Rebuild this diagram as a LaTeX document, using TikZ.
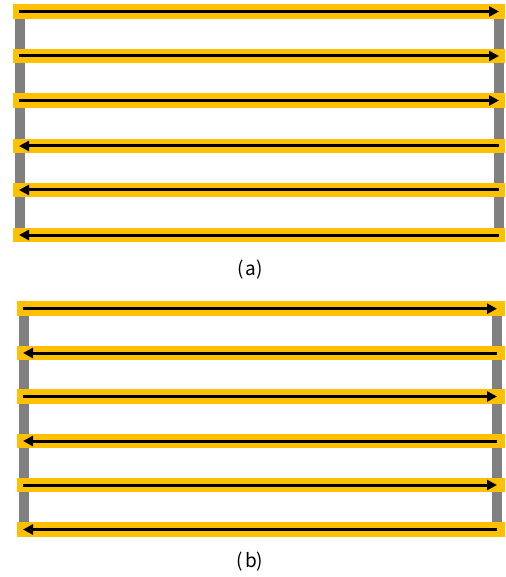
\documentclass[tikz,border=0pt]{standalone}
\usepackage{fontspec}
\setmainfont{Noto Sans CJK KR}
\usetikzlibrary{arrows.meta}
\definecolor{barYellow}{HTML}{FFC000}
\definecolor{postGray}{HTML}{808080}

\begin{document}
\begin{tikzpicture}[x=1pt, y=-1pt, >={Triangle[length=10pt, width=10pt]},
  post/.style={draw=postGray, line width=10pt},
  bar/.style={draw=barYellow, line width=14.5pt},
  flow/.style={->, line width=3pt},
  caption/.style={font=\fontsize{19}{21}\selectfont}]
  \useasboundingbox (0,0) rectangle (505,577);
  % (a) rows: first three go right, last three go left
  \draw[post] (20,11.5) -- (20,235);
  \draw[post] (499,11.5) -- (499,235);
  \foreach \y/\from/\to [count=\i] in {11.5/w/e, 56/w/e, 100.5/w/e, 146/e/w, 190/e/w, 235/e/w} {
    \draw[bar] (12.5,\y) -- (505,\y);
    \coordinate (a\i w) at (19,\y);
    \coordinate (a\i e) at (499,\y);
    \draw[flow] (a\i\from) -- (a\i\to);
  }
  \node[caption] (capA) at (250,270) {(\kern2pt a)};
  % (b) rows: directions alternate
  \draw[post] (24,308.7) -- (24,529.5);
  \draw[post] (497,308.7) -- (497,529.5);
  \foreach \y/\from/\to [count=\i] in {308.7/w/e, 353/e/w, 396.5/w/e, 441/e/w, 485/w/e, 529.5/e/w} {
    \draw[bar] (16.7,\y) -- (505,\y);
    \coordinate (b\i w) at (23,\y);
    \coordinate (b\i e) at (497,\y);
    \draw[flow] (b\i\from) -- (b\i\to);
  }
  \node[caption] (capB) at (250,562) {(\kern2pt b)};
\end{tikzpicture}
\end{document}
